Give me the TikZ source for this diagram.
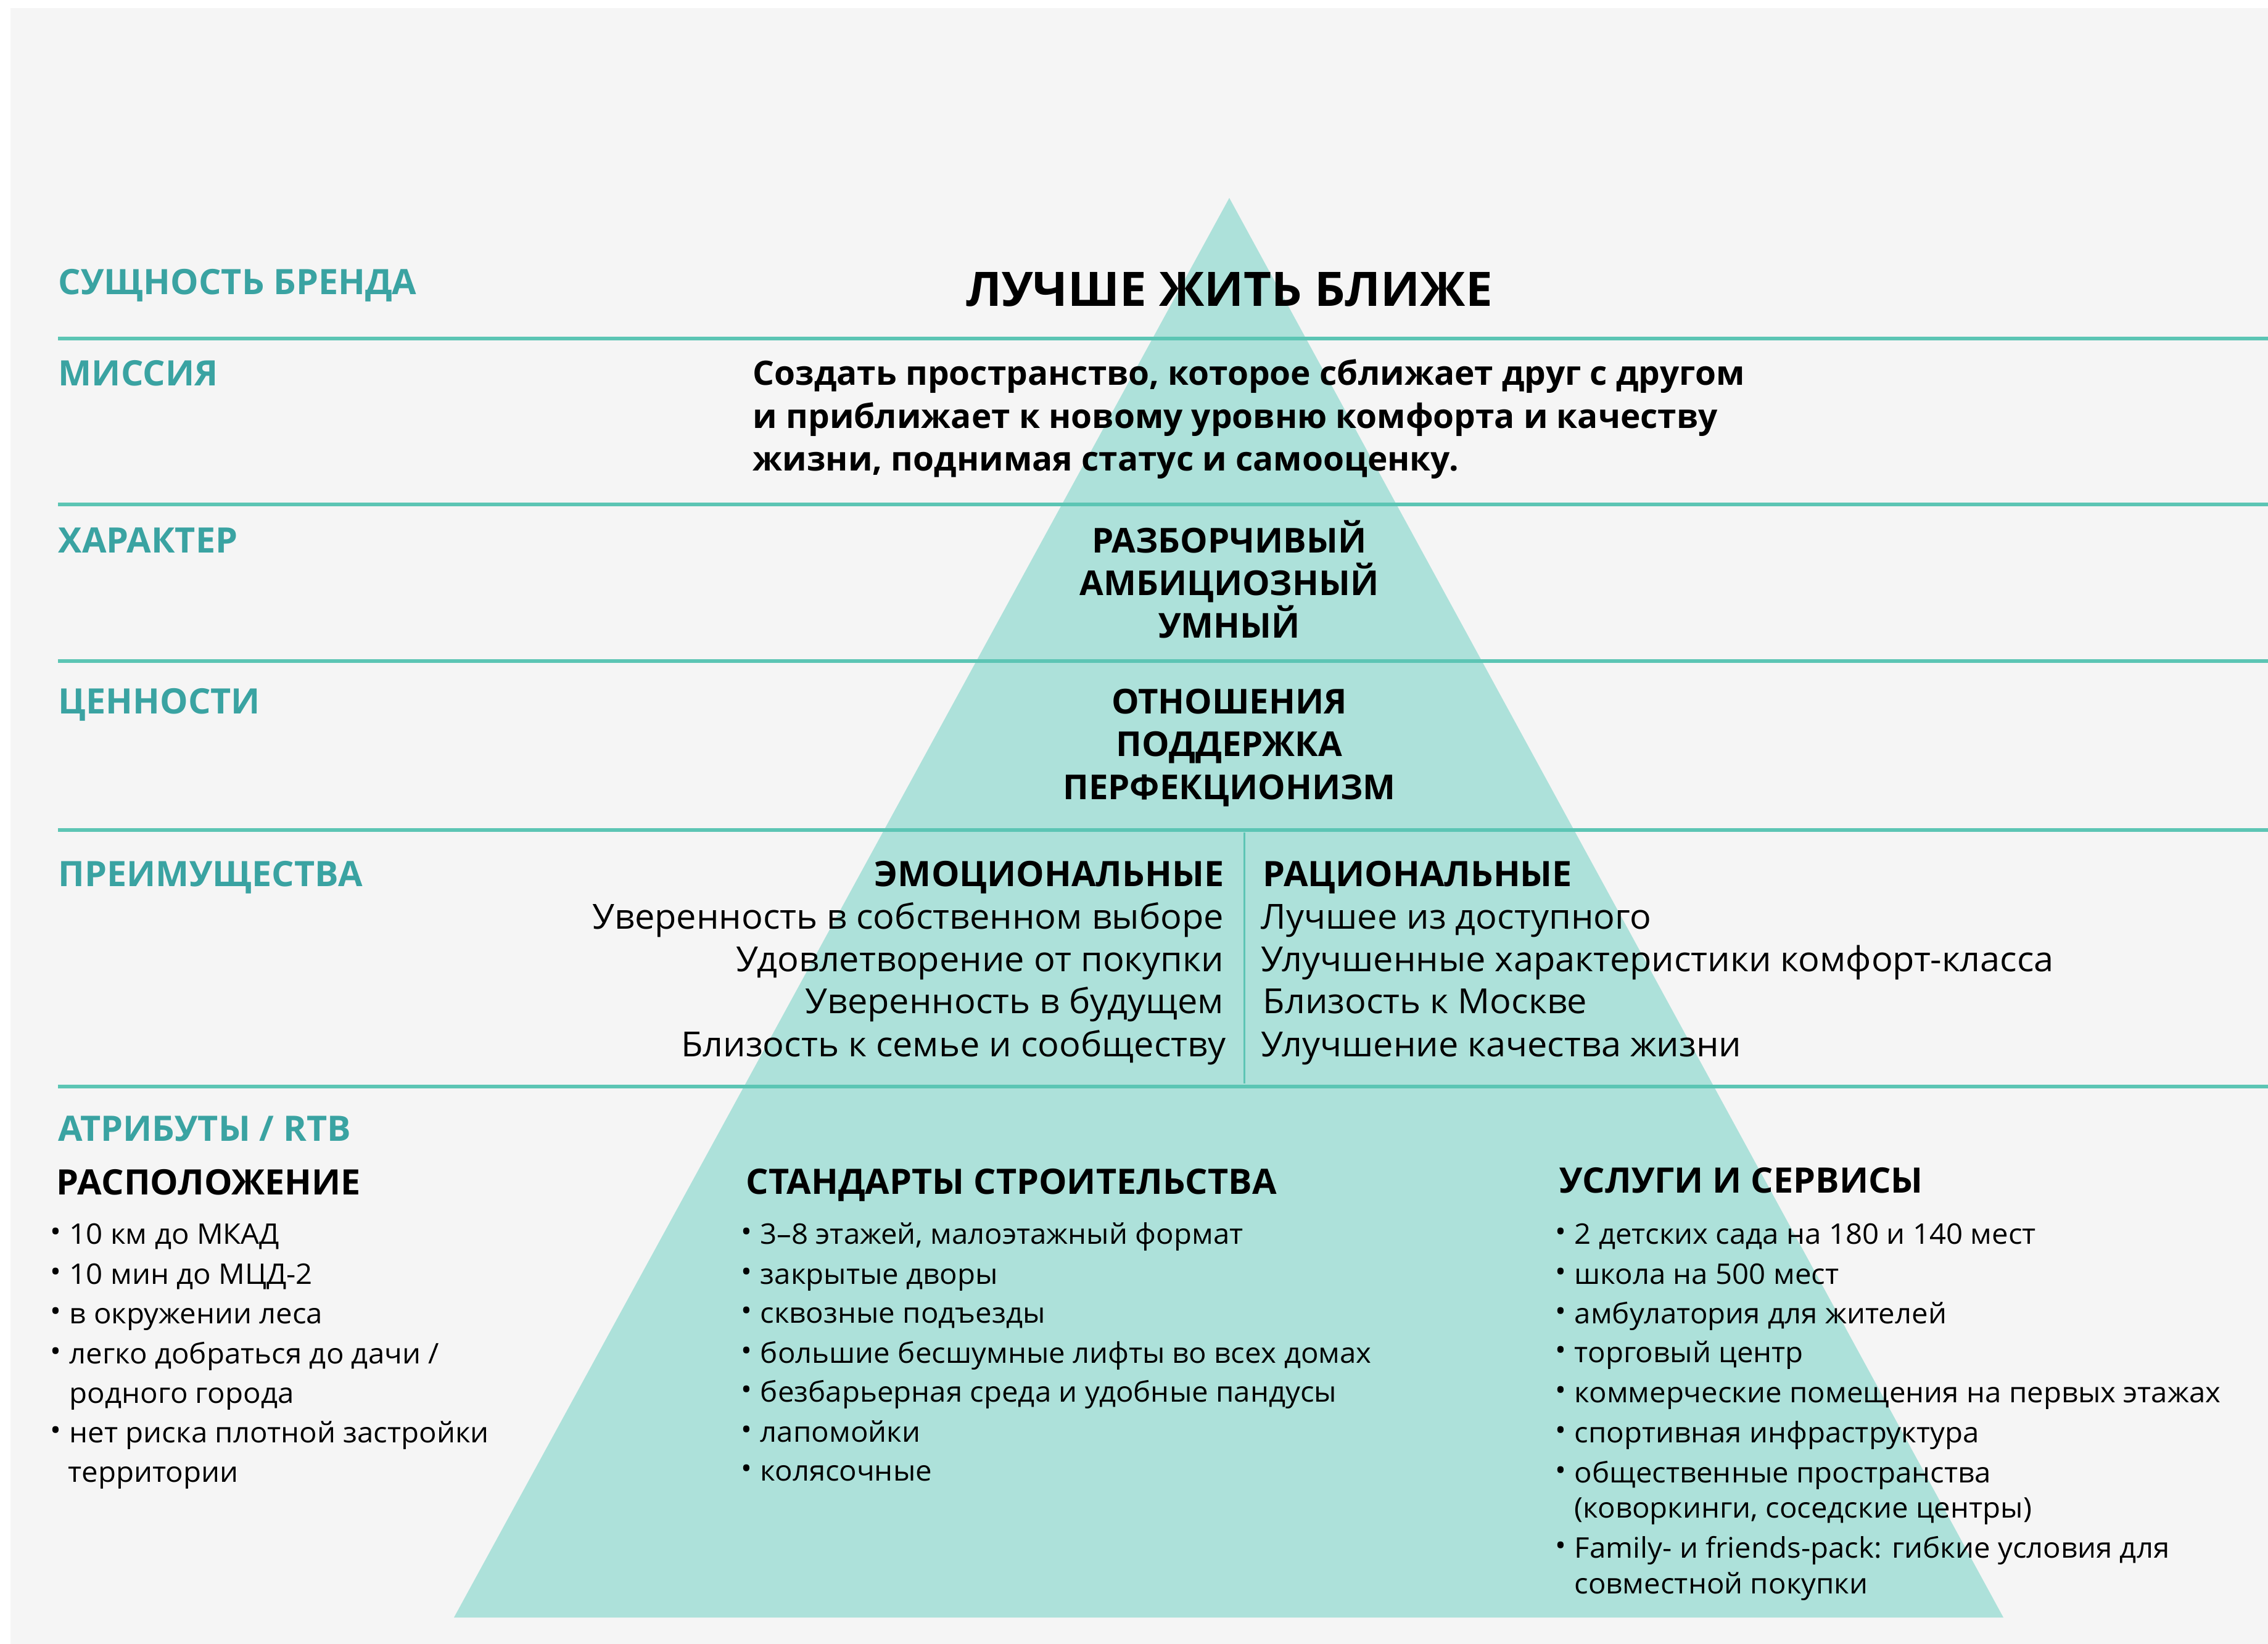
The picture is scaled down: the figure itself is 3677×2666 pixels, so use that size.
\documentclass[tikz,border=0pt]{standalone}
\usepackage{fontspec}
\setmainfont{Open Sans}[FakeStretch=1.03]
\newfontfamily\hfont{Open Sans}[FakeStretch=1.01]
\definecolor{bgc}{HTML}{F5F5F5}
\definecolor{tric}{HTML}{ADE1DA}
\definecolor{linec}{HTML}{5CC5B4}
\definecolor{labc}{HTML}{3AA3A2}
\newcommand\fLab{\hfont\fontsize{14.2}{16}\selectfont\bfseries}
\newcommand\fTitle{\hfont\fontsize{19.25}{22}\selectfont\bfseries}
\newcommand\fBig{\hfont\fontsize{13.9}{16}\selectfont\bfseries}
\newcommand\fMis{\hfont\fontsize{13.6}{16}\selectfont\bfseries}
\newcommand\fReg{\fontsize{14}{16}\selectfont}
\newcommand\fSmall{\fontsize{11.5}{13}\selectfont}
\newcommand\bitem[4]{%
  \node[bul] (#1b) at (#2,#3) {•};
  \node[btxt] (#1) at (#2+22,#3) {#4};}
\newcommand\bcont[4]{%
  \node[btxt] (#1) at (#2+22,#3) {#4};}
\begin{document}
\begin{tikzpicture}[x=0.25pt,y=-0.25pt,
  lab/.style={anchor=base west,inner sep=0pt,text=labc,font=\fLab},
  ctr/.style={anchor=base,inner sep=0pt,font=\fBig},
  lft/.style={anchor=base west,inner sep=0pt,font=\fMis},
  bhl/.style={anchor=base east,inner sep=0pt,font=\fReg},
  bhr/.style={anchor=base west,inner sep=0pt,font=\fReg},
  colhead/.style={anchor=base west,inner sep=0pt,font=\fLab},
  bul/.style={anchor=base,inner sep=0pt,font=\fSmall,yshift=0.8pt},
  btxt/.style={anchor=base west,inner sep=0pt,font=\fSmall},
  sep/.style={draw=linec,line width=1.5pt},
]
\useasboundingbox (0,0) rectangle (3677,2666);
\fill[white] (0,0) rectangle (3677,2666);
\fill[bgc] (17,13) rectangle (3677,2666);
% pyramid
\coordinate (apex) at (1993,321);
\coordinate (bl) at (736,2623);
\coordinate (br) at (3248,2623);
\fill[tric] (apex) -- (bl) -- (br) -- cycle;
% separator lines
\foreach \yy/\nm in {549/a,818/b,1072/c,1346/d,1762/e}{
  \coordinate (l\nm) at (94,\yy);
  \coordinate (r\nm) at (3677,\yy);
  \draw[sep] (l\nm) -- (r\nm);
}
\coordinate (dtop) at (2017,1350);
\coordinate (dbot) at (2017,1757);
\draw[draw=linec,line width=0.75pt] (dtop) -- (dbot);
% labels
\node[lab] (L1) at (94,477) {СУЩНОСТЬ БРЕНДА};
\node[lab] (L2) at (94,625) {МИССИЯ};
\node[lab] (L3) at (94,896) {ХАРАКТЕР};
\node[lab] (L4) at (94,1157) {ЦЕННОСТИ};
\node[lab] (L5) at (94,1437) {ПРЕИМУЩЕСТВА};
\node[lab] (L6) at (94,1850) {АТРИБУТЫ / RTB};
% title
\node[anchor=base,inner sep=0pt,font=\fTitle] (title) at (1993,496) {ЛУЧШЕ ЖИТЬ БЛИЖЕ};
% mission
\node[lft] (m1) at (1220,624) {Создать пространство, которое сближает друг с другом};
\node[lft] (m2) at (1220,694) {и приближает к новому уровню комфорта и качеству};
\node[lft] (m3) at (1220,763) {жизни, поднимая статус и самооценку.};
% character
\node[ctr] (c1) at (1993,896) {РАЗБОРЧИВЫЙ};
\node[ctr] (c2) at (1993,965) {АМБИЦИОЗНЫЙ};
\node[ctr] (c3) at (1993,1034) {УМНЫЙ};
% values
\node[ctr] (v1) at (1993,1157) {ОТНОШЕНИЯ};
\node[ctr] (v2) at (1993,1226) {ПОДДЕРЖКА};
\node[ctr] (v3) at (1993,1296) {ПЕРФЕКЦИОНИЗМ};
% benefits
\node[anchor=base east,inner sep=0pt,font=\fLab] (e0) at (1985,1437) {ЭМОЦИОНАЛЬНЫЕ};
\node[bhl] (e1) at (1985,1506) {Уверенность в собственном выборе};
\node[bhl] (e2) at (1985,1575) {Удовлетворение от покупки};
\node[bhl] (e3) at (1985,1643) {Уверенность в будущем};
\node[bhl] (e4) at (1988,1713) {Близость к семье и сообществу};
\node[anchor=base west,inner sep=0pt,font=\fLab] (r0) at (2047,1437) {РАЦИОНАЛЬНЫЕ};
\node[bhr] (r1) at (2044,1506) {Лучшее из доступного};
\node[bhr] (r2) at (2044,1575) {Улучшенные характеристики комфорт-класса};
\node[bhr] (r3) at (2047,1643) {Близость к Москве};
\node[bhr] (r4) at (2044,1713) {Улучшение качества жизни};
% column 1
\node[colhead] (h1) at (91,1937) {РАСПОЛОЖЕНИЕ};
\bitem{a1}{90}{2017}{10 км до МКАД}
\bitem{a2}{90}{2082}{10 мин до МЦД-2}
\bitem{a3}{90}{2146}{в окружении леса}
\bitem{a4}{90}{2211}{легко добраться до дачи /}
\bcont{a5}{90}{2275}{родного города}
\bitem{a6}{90}{2339}{нет риска плотной застройки}
\bcont{a7}{88}{2403}{территории}
% column 2
\node[colhead] (h2) at (1209,1936) {СТАНДАРТЫ СТРОИТЕЛЬСТВА};
\bitem{s1}{1210}{2017}{3–8 этажей, малоэтажный формат}
\bitem{s2}{1210}{2082}{закрытые дворы}
\bitem{s3}{1210}{2145}{сквозные подъезды}
\bitem{s4}{1210}{2210}{большие бесшумные лифты во всех домах}
\bitem{s5}{1210}{2273}{безбарьерная среда и удобные пандусы}
\bitem{s6}{1210}{2338}{лапомойки}
\bitem{s7}{1210}{2401}{колясочные}
% column 3
\node[colhead] (h3) at (2528,1934) {УСЛУГИ И СЕРВИСЫ};
\bitem{u1}{2530}{2017}{2 детских сада на 180 и 140 мест}
\bitem{u2}{2530}{2082}{школа на 500 мест}
\bitem{u3}{2530}{2146}{амбулатория для жителей}
\bitem{u4}{2530}{2209}{торговый центр}
\bitem{u5}{2530}{2274}{коммерческие помещения на первых этажах}
\bitem{u6}{2530}{2339}{спортивная инфраструктура}
\bitem{u7}{2530}{2404}{общественные пространства}
\bcont{u8}{2530}{2461}{(коворкинги, соседские центры)}
\bitem{u9}{2530}{2526}{Family- и friends-pack: гибкие условия для}
\bcont{u10}{2530}{2584}{совместной покупки}
\end{tikzpicture}
\end{document}
